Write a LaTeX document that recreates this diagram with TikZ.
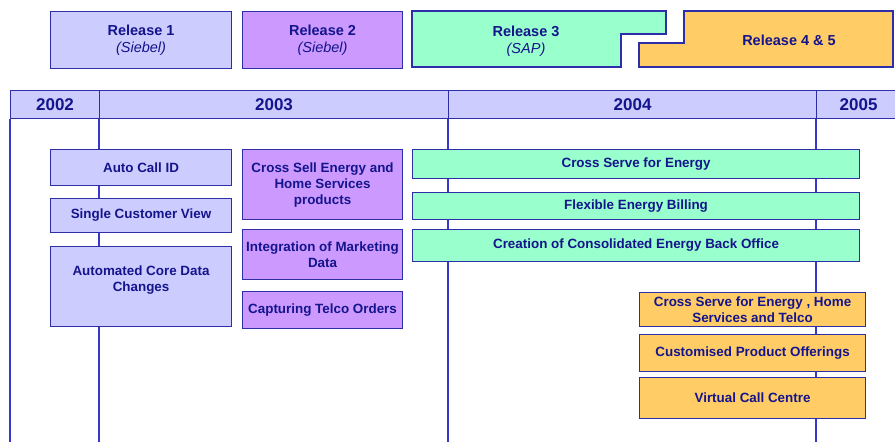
\documentclass[tikz,border=0pt]{standalone}
\usepackage{xcolor}
\usepackage{fontspec}
\setmainfont{Liberation Sans}
\usepackage{tikz}
\usetikzlibrary{positioning}
\definecolor{rlav}{HTML}{CCCCFF}
\definecolor{rpurple}{HTML}{CC99FF}
\definecolor{rgreen}{HTML}{99FFCC}
\definecolor{rorange}{HTML}{FFCC66}
\definecolor{rline}{HTML}{2E2EA8}
\definecolor{rtext}{HTML}{14148C}
\definecolor{rgrid}{HTML}{3838C8}

\begin{document}
\begin{tikzpicture}[
  x=1pt, y=-1pt,
  item/.style={rectangle, draw=rline, line width=1.1pt, anchor=north west, inner sep=1pt, align=center, text=rtext, font=\bfseries\fontsize{13.4}{16}\selectfont},
  relbox/.style={item, font=\fontsize{14.5}{17}\selectfont},
  yearcell/.style={rectangle, draw=rline, fill=rlav, line width=1.1pt, anchor=north west, minimum height=28pt, text=rtext, font=\bfseries\fontsize{17}{20}\selectfont},
  grid/.style={draw=rgrid, line width=1.2pt},
  r1/.style={fill=rlav},
  r2/.style={fill=rpurple},
  r3/.style={fill=rgreen},
  r4/.style={fill=rorange},
]
\useasboundingbox (0,0) rectangle (895,442);
\clip (0,0) rectangle (895,442);

% Releases
\node[relbox, r1, minimum width=181pt, minimum height=57pt] (rel1) at (50,11) {\textbf{Release 1}\\\textit{(Siebel)}};
\node[relbox, r2, minimum width=160pt, minimum height=57pt] (rel2) at (242,11) {\textbf{Release 2}\\\textit{(Siebel)}};
\draw[draw=rline, line width=1.1pt, r3] (412,11) -- (666,11) -- (666,34) -- (621,34) -- (621,67) -- (412,67) -- cycle;
\node[align=center, text=rtext, font=\fontsize{14.5}{17}\selectfont] (rel3) at (526,41) {\textbf{Release 3}\\\textit{(SAP)}};
\draw[draw=rline, line width=1.1pt, r4] (639,43) -- (684,43) -- (684,11) -- (893,11) -- (893,67) -- (639,67) -- cycle;
\node[text=rtext, font=\bfseries\fontsize{14.5}{17}\selectfont] (rel45) at (789,40) {Release 4 \& 5};

% Years
\node[yearcell, minimum width=89pt] (y2002) at (10,90) {2002};
\node[yearcell, minimum width=349pt] (y2003) at (99,90) {2003};
\node[yearcell, minimum width=368pt] (y2004) at (448,90) {2004};
\node[yearcell, minimum width=84pt] (y2005) at (816,90) {2005};
\draw[grid] (y2002.south west) -- ++(0,330);
\draw[grid] (y2003.south west) -- ++(0,330);
\draw[grid] (y2004.south west) -- ++(0,330);
\draw[grid] (y2005.south west) -- ++(0,330);

% Release 1 items
\node[item, r1, minimum width=181pt, minimum height=36pt] (autocall) at (50,149) {Auto Call ID};
\node[item, r1, minimum width=181pt, minimum height=34pt] (singleview) at (50,198) {Single Customer View};
\node[item, r1, minimum width=181pt, minimum height=80pt,
  label={[anchor=north, inner sep=0pt, yshift=-20pt, align=center, text=rtext, font=\bfseries\fontsize{13.4}{16}\selectfont]north:{Automated Core Data\\Changes}}] (coredata) at (50,246) {};

% Release 2 items
\node[item, r2, minimum width=160pt, minimum height=70pt] (crosssell) at (242,149) {Cross Sell Energy and\\Home Services\\products};
\node[item, r2, minimum width=160pt, minimum height=50pt] (marketing) at (242,229) {Integration of Marketing\\Data};
\node[item, r2, minimum width=160pt, minimum height=37pt] (telco) at (242,291) {Capturing Telco Orders};

% Release 3 items
\node[item, r3, minimum width=447pt, minimum height=29pt] (crossserve) at (412,149) {Cross Serve for Energy};
\node[item, r3, minimum width=447pt, minimum height=27pt] (billing) at (412,192) {Flexible Energy Billing};
\node[item, r3, minimum width=447pt, minimum height=32pt] (backoffice) at (412,229) {Creation of Consolidated Energy Back Office};

% Release 4 & 5 items
\node[item, r4, minimum width=226pt, minimum height=34pt] (crossall) at (639,292) {Cross Serve for Energy , Home\\Services and Telco};
\node[item, r4, minimum width=226pt, minimum height=37pt] (offerings) at (639,334) {Customised Product Offerings};
\node[item, r4, minimum width=226pt, minimum height=41pt] (callcentre) at (639,377) {Virtual Call Centre};

\end{tikzpicture}
\end{document}
